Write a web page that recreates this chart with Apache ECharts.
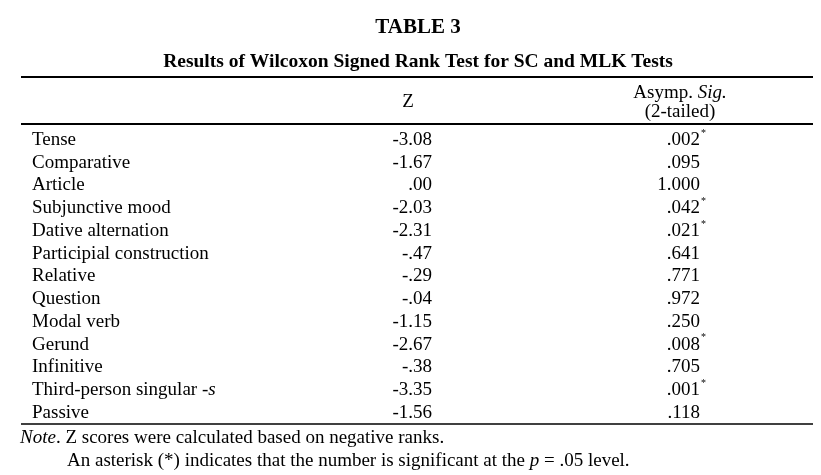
<!DOCTYPE html>
<html>
<head>
<meta charset="utf-8">
<script src="https://cdn.jsdelivr.net/npm/echarts@6/dist/echarts.min.js"></script>
<style>
  html, body { margin: 0; padding: 0; background: #fff; }
  #chart { width: 821px; height: 475px; }
</style>
</head>
<body>
<div id="chart"></div>
<script>
const title = "TABLE 3"
const subtitle = "Results of Wilcoxon Signed Rank Test for SC and MLK Tests"
const categories = [
  "Tense", "Comparative", "Article", "Subjunctive mood", "Dative alternation",
  "Participial construction", "Relative", "Question", "Modal verb", "Gerund",
  "Infinitive", "Third-person singular -s", "Passive"
]
const zScores = ["-3.08", "-1.67", ".00", "-2.03", "-2.31", "-.47", "-.29", "-.04", "-1.15", "-2.67", "-.38", "-3.35", "-1.56"]
const sigValues = [".002", ".095", "1.000", ".042", ".021", ".641", ".771", ".972", ".250", ".008", ".705", ".001", ".118"]
const significant = [true, false, false, true, true, false, false, false, false, true, false, true, false]

const FONT = "'Liberation Serif', 'Times New Roman', serif"
const SIZE = 19
const chart = echarts.init(document.getElementById("chart"))

const rowTop = 140
const rowStep = 22.75
const elements = []
const italic = { i: { fontStyle: "italic", fontFamily: FONT, fontSize: SIZE } }

function text(x, y, str, opts) {
  elements.push({
    type: "text",
    x: x,
    y: y,
    style: Object.assign({
      text: str,
      fontFamily: FONT,
      fontSize: SIZE,
      fill: "#000",
      verticalAlign: "middle",
      textAlign: "left"
    }, opts || {})
  })
}

function rule(y, width) {
  elements.push({
    type: "line",
    shape: { x1: 21, y1: y, x2: 813, y2: y },
    style: { stroke: "#000", lineWidth: width }
  })
}

text(418, 28, title, { fontSize: 21, fontWeight: "bold", textAlign: "center" })
text(418, 62, subtitle, { fontSize: 19.5, fontWeight: "bold", textAlign: "center" })
rule(77, 2)
text(408, 102, "Z", { textAlign: "center" })
text(680, 93, "Asymp. {i|Sig.}", { textAlign: "center", rich: italic })
text(680, 112, "(2-tailed)", { textAlign: "center" })
rule(124, 2)

categories.forEach((cat, i) => {
  const y = rowTop + i * rowStep
  let label = cat
  if (cat.endsWith(" -s")) {
    label = cat.slice(0, -1) + "{i|s}"
  }
  text(32, y, label, { rich: italic })
  text(432, y, zScores[i], { textAlign: "right" })
  text(700, y, sigValues[i], { textAlign: "right" })
  if (significant[i]) {
    text(701, y - 7, "*", { fontSize: 10 })
  }
})

rule(424, 1.5)
text(20, 438, "{i|Note}. Z scores were calculated based on negative ranks.", { rich: italic })
text(67, 461, "An asterisk (*) indicates that the number is significant at the {i|p} = .05 level.", { rich: italic })

chart.setOption({
  animation: false,
  graphic: { elements: elements }
})
</script>
</body>
</html>
